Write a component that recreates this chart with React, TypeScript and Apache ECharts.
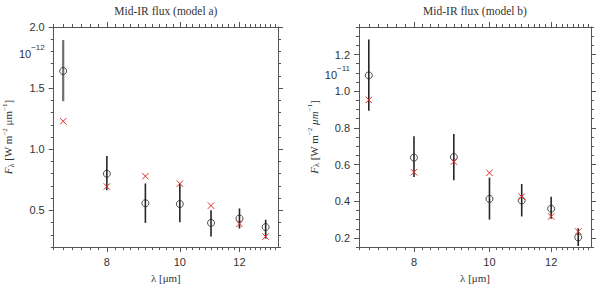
import React, { useEffect, useRef } from "react";
import * as echarts from "echarts";

// wavelengths (µm)
const WAVELENGTHS = [7, 8, 9, 10, 11, 12, 13];

// model a (×1e-12)
const A_OBS = [1.64, 0.8, 0.559, 0.552, 0.398, 0.434, 0.364];
const A_LO = [1.393, 0.665, 0.398, 0.403, 0.286, 0.352, 0.27];
const A_HI = [1.893, 0.945, 0.72, 0.72, 0.502, 0.516, 0.424];
const A_MODEL = [1.229, 0.695, 0.78, 0.719, 0.539, 0.39, 0.286];

// model b (×1e-11)
const B_OBS = [1.086, 0.638, 0.641, 0.413, 0.404, 0.359, 0.203];
const B_LO = [0.893, 0.532, 0.515, 0.3, 0.317, 0.304, 0.156];
const B_HI = [1.282, 0.754, 0.766, 0.529, 0.494, 0.425, 0.252];
const B_MODEL = [0.953, 0.558, 0.616, 0.555, 0.425, 0.317, 0.235];

const X_RANGE = [6.8, 13.5];
const X_MAJOR = [8, 10, 12];
const A_Y_RANGE = [0.2, 2.0];
const A_Y_MAJOR = [0.5, 1.0, 1.5, 2.0];
const A_EXP_POS = 1.8;
const A_EXP = "−12";
const B_Y_RANGE = [0.15, 1.35];
const B_Y_MAJOR = [0.2, 0.4, 0.6, 0.8, 1.0, 1.2];
const B_EXP_POS = 1.1;
const B_EXP = "−11";

const TITLES = ["Mid-IR flux (model a)", "Mid-IR flux (model b)"];

const steps = (a: number, b: number, s: number) => {
  const out: number[] = [];
  const n = Math.round((b - a) / s);
  for (let k = 0; k <= n; k++) out.push(+(a + k * s).toFixed(4));
  return out;
};

const X_MINOR = steps(6.8, 13.4, 0.2);
const A_Y_MINOR = steps(0.2, 2.0, 0.1);
const B_Y_MINOR = steps(0.15, 1.35, 0.05);

const AXIS_COLOR = "#555";
const LABEL_FONT = "Liberation Sans";
const SERIF = "Liberation Serif";
const RED = "#d9302c";

function buildPanel(g: number, cfg: any) {
  const lx = (v: number) => Math.log(v);
  const xBase = {
    type: "value",
    gridIndex: g,
    min: lx(X_RANGE[0]),
    max: lx(X_RANGE[1]),
    splitLine: { show: false },
    axisLine: { show: false, lineStyle: { color: AXIS_COLOR, width: 1 } },
  };
  const xAxes = [
    {
      ...xBase,
      position: "bottom",
      axisLine: { show: true, onZero: false, lineStyle: { color: AXIS_COLOR, width: 1 } },
      axisTick: { show: true, inside: false, length: 5, customValues: X_MAJOR.map(lx), lineStyle: { color: AXIS_COLOR } },
      axisLabel: {
        show: true,
        margin: 9,
        customValues: X_MAJOR.map(lx),
        formatter: (v: number) => String(Math.round(Math.exp(v))),
        fontFamily: LABEL_FONT,
        fontSize: 11,
        color: "#333",
      },
      name: "λ [μm]",
      nameLocation: "middle",
      nameGap: 24,
      nameTextStyle: { fontFamily: SERIF, fontSize: 11, color: "#333" },
    },
    {
      ...xBase,
      position: "bottom",
      axisTick: { show: true, inside: false, length: 3, customValues: X_MINOR.map(lx), lineStyle: { color: AXIS_COLOR } },
      axisLabel: { show: false },
    },
    {
      ...xBase,
      position: "top",
      axisLine: { show: true, onZero: false, lineStyle: { color: AXIS_COLOR, width: 1 } },
      axisTick: { show: true, inside: false, length: 5, customValues: X_MAJOR.map(lx), lineStyle: { color: AXIS_COLOR } },
      axisLabel: { show: false },
      name: cfg.title,
      nameLocation: "middle",
      nameGap: 10,
      nameTextStyle: { fontFamily: SERIF, fontSize: 11.5, color: "#333" },
    },
    {
      ...xBase,
      position: "top",
      axisTick: { show: true, inside: false, length: 3, customValues: X_MINOR.map(lx), lineStyle: { color: AXIS_COLOR } },
      axisLabel: { show: false },
    },
  ];

  const yBase = {
    type: "value",
    gridIndex: g,
    min: cfg.yRange[0],
    max: cfg.yRange[1],
    splitLine: { show: false },
    axisLine: { show: false, lineStyle: { color: AXIS_COLOR, width: 1 } },
  };
  const yAxes = [
    {
      ...yBase,
      position: "left",
      axisLine: { show: true, onZero: false, lineStyle: { color: AXIS_COLOR, width: 1 } },
      axisTick: { show: true, inside: false, length: 5, customValues: cfg.yMajor, lineStyle: { color: AXIS_COLOR } },
      axisLabel: {
        show: true,
        margin: 9,
        customValues: [...cfg.yMajor, cfg.expPos],
        formatter: (v: number) =>
          Math.abs(v - cfg.expPos) < 1e-6 ? "{b|10}{sup|" + cfg.exp + "}" : v.toFixed(1),
        fontFamily: LABEL_FONT,
        fontSize: 11,
        color: "#333",
        rich: {
          b: { fontFamily: LABEL_FONT, fontSize: 11, color: "#333", lineHeight: 16, verticalAlign: "bottom" },
          sup: { fontFamily: LABEL_FONT, fontSize: 8, color: "#333", lineHeight: 16, verticalAlign: "top" },
        },
      },
      name: cfg.yName,
      nameLocation: "middle",
      nameGap: cfg.nameGap,
      nameRotate: 90,
      nameTextStyle: {
        fontFamily: SERIF,
        fontSize: 11,
        color: "#333",
        lineHeight: 14,
        rich: {
          i: { fontFamily: SERIF, fontSize: 11, fontStyle: "italic", color: "#333", lineHeight: 14 },
          sub: { fontFamily: SERIF, fontSize: 8, color: "#333", lineHeight: 14, verticalAlign: "bottom" },
          sup: { fontFamily: SERIF, fontSize: 7, color: "#333", lineHeight: 14, verticalAlign: "top" },
          mu: { fontFamily: SERIF, fontSize: 11, color: "#333", lineHeight: 14, fontStyle: cfg.muStyle },
          n: { fontFamily: SERIF, fontSize: 11, color: "#333", lineHeight: 14 },
        },
      },
    },
    {
      ...yBase,
      position: "left",
      axisTick: { show: true, inside: false, length: 3, customValues: cfg.yMinor, lineStyle: { color: AXIS_COLOR } },
      axisLabel: { show: false },
    },
    {
      ...yBase,
      position: "right",
      axisLine: { show: true, onZero: false, lineStyle: { color: AXIS_COLOR, width: 1 } },
      axisTick: { show: true, inside: false, length: 5, customValues: cfg.yMajor, lineStyle: { color: AXIS_COLOR } },
      axisLabel: { show: false },
    },
    {
      ...yBase,
      position: "right",
      axisTick: { show: true, inside: false, length: 3, customValues: cfg.yMinor, lineStyle: { color: AXIS_COLOR } },
      axisLabel: { show: false },
    },
  ];

  const xi = g * 4;
  const yi = g * 4;
  const series = [
    {
      type: "custom",
      xAxisIndex: xi,
      yAxisIndex: yi,
      data: WAVELENGTHS.map((w, i) => [lx(w), cfg.lo[i], cfg.hi[i]]),
      encode: { x: 0, y: [1, 2] },
      renderItem: (params: any, api: any) => {
        const x = api.value(0);
        const p1 = api.coord([x, api.value(1)]);
        const p2 = api.coord([x, api.value(2)]);
        const first = cfg.greyFirst && params.dataIndex === 0;
        return {
          type: "line",
          shape: { x1: p1[0], y1: p1[1], x2: p2[0], y2: p2[1] },
          style: { stroke: first ? "#6e6e6e" : "#262626", lineWidth: first ? 2.2 : 1.6 },
        };
      },
      z: 2,
    },
    {
      type: "scatter",
      xAxisIndex: xi,
      yAxisIndex: yi,
      data: WAVELENGTHS.map((w, i) => [lx(w), cfg.obs[i]]),
      symbol: "circle",
      symbolSize: 7,
      itemStyle: { color: "rgba(255,255,255,0)", borderColor: "#222", borderWidth: 1 },
      z: 3,
    },
    {
      type: "custom",
      xAxisIndex: xi,
      yAxisIndex: yi,
      data: WAVELENGTHS.map((w, i) => [lx(w), cfg.model[i]]),
      renderItem: (params: any, api: any) => {
        const p = api.coord([api.value(0), api.value(1)]);
        const h = 3.2;
        const style = { stroke: RED, lineWidth: 1 };
        return {
          type: "group",
          children: [
            { type: "line", shape: { x1: p[0] - h, y1: p[1] - h, x2: p[0] + h, y2: p[1] + h }, style },
            { type: "line", shape: { x1: p[0] - h, y1: p[1] + h, x2: p[0] + h, y2: p[1] - h }, style },
          ],
        };
      },
      z: 4,
    },
  ];
  return { xAxes, yAxes, series };
}

export default function App() {
  const ref = useRef<HTMLDivElement>(null);
  useEffect(() => {
    if (!ref.current) return;
    const chart = echarts.init(ref.current, null, { renderer: "svg" });
    const pa = buildPanel(0, {
      title: TITLES[0],
      yRange: A_Y_RANGE,
      yMajor: A_Y_MAJOR,
      yMinor: A_Y_MINOR,
      expPos: A_EXP_POS,
      exp: A_EXP,
      yName: "{i|F}{sub|λ}{n| [W m}{sup|−2}{n| }{mu|μm}{sup|−1}{n|]}",
      muStyle: "normal",
      nameGap: 32,
      obs: A_OBS,
      lo: A_LO,
      hi: A_HI,
      model: A_MODEL,
      greyFirst: true,
    });
    const pb = buildPanel(1, {
      title: TITLES[1],
      yRange: B_Y_RANGE,
      yMajor: B_Y_MAJOR,
      yMinor: B_Y_MINOR,
      expPos: B_EXP_POS,
      exp: B_EXP,
      yName: "{i|F}{sub|λ}{n| [W m}{sup|−2}{n| }{mu|μm}{sup|−1}{n|]}",
      muStyle: "italic",
      nameGap: 35,
      obs: B_OBS,
      lo: B_LO,
      hi: B_HI,
      model: B_MODEL,
      greyFirst: false,
    });
    chart.setOption({
      animation: false,
      backgroundColor: "#ffffff",
      grid: [
        { left: 45, right: 322, top: 22, bottom: 35 },
        { left: 359, right: 9, top: 22, bottom: 35 },
      ],
      xAxis: [...pa.xAxes, ...pb.xAxes],
      yAxis: [...pa.yAxes, ...pb.yAxes],
      series: [...pa.series, ...pb.series],
    });
    return () => chart.dispose();
  }, []);
  return (
    <div
      ref={ref}
      style={{ position: "fixed", left: 0, top: 0, width: 600, height: 288, background: "#fff" }}
    />
  );
}
